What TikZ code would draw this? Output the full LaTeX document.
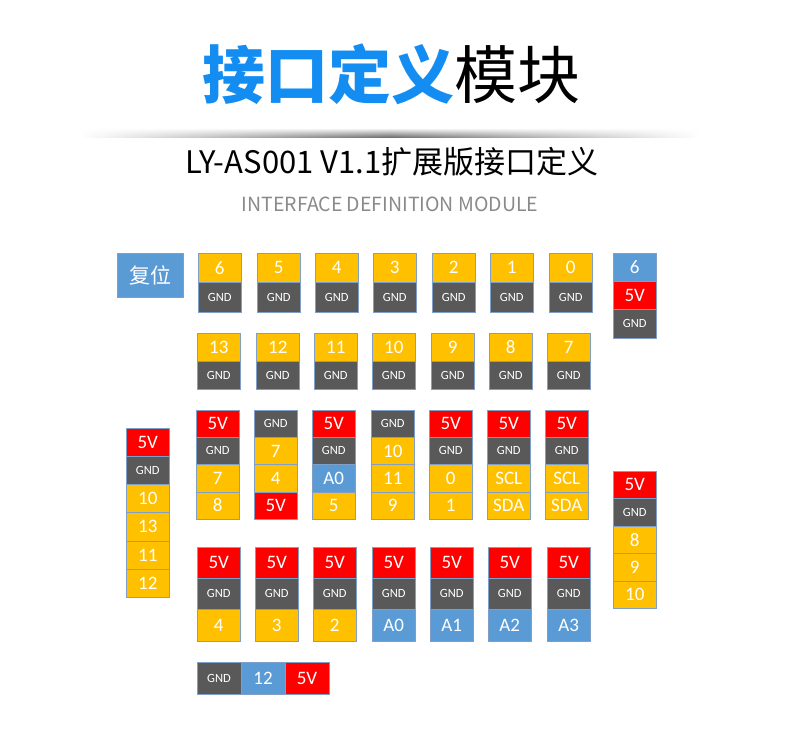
\documentclass[tikz,border=0pt]{standalone}
\usepackage{fontspec}
\setmainfont{Carlito}
\newfontfamily\cjk{Noto Sans CJK SC}
\usetikzlibrary{positioning,fadings}
\definecolor{pinyel}{HTML}{FFC000}
\definecolor{pingnd}{HTML}{595959}
\definecolor{pinred}{HTML}{FF0000}
\definecolor{pinblu}{HTML}{5B9BD5}
\definecolor{pinedge}{HTML}{7F9FC6}
\definecolor{titleblue}{HTML}{138DF2}
\definecolor{subgray}{HTML}{8A8A8A}

\begin{document}
\begin{tikzpicture}[x=1pt, y=-1pt,
    pin/.style={draw=pinedge, line width=0.6pt, outer sep=0pt, inner sep=0pt,
                minimum width=43.5pt, anchor=north west, text=white,
                font=\fontsize{19}{19}\selectfont},
    pyel/.style={fill=pinyel},
    pgnd/.style={fill=pingnd, font=\fontsize{12.5}{12.5}\selectfont},
    pred/.style={fill=pinred},
    pblu/.style={fill=pinblu},
]
\fill[white] (0,0) rectangle (790,738);
\useasboundingbox (0,0) rectangle (790,738);

% Heading
\node[font=\cjk\fontsize{63}{63}\selectfont] (title) at (391,74)
    {\textcolor{titleblue}{\bfseries 接口定义}模块};
% shadow under the heading
\shade[left color=white, right color=white, middle color=black!62, path fading=north]
    (80,128) rectangle (700,138);
\node[font=\cjk\fontsize{31}{31}\selectfont] (subtitle) at (392,162)
    {LY-AS001 V1.1扩展版接口定义};
\node[font=\cjk\fontsize{19.5}{19.5}\selectfont, text=subgray] (entitle) at (390,204)
    {INTERFACE DEFINITION MODULE};

% Reset button
\node[pin, pblu, minimum width=66pt, minimum height=44pt,
      font=\cjk\fontsize{21}{21}\selectfont] (reset) at (117,253) {复位};

% Row 1: digital pins over GND
\foreach \x/\t [count=\i] in {198/6,257/5,315/4,373/3,432/2,490/1,549/0} {
    \node[pin, pyel, minimum height=29.5pt] (top\i) at (\x,253) {\t};
    \node[pin, pgnd, minimum height=29.5pt, below=0pt of top\i] (topg\i) {GND};
}

% Top right header
\foreach \c/\t [count=\j] in {pblu/6,pred/5V,pgnd/GND}
    \node[pin, \c, minimum height=28.3pt] (rt\j) at (613,{253+28.3*(\j-1)}) {\t};

% Row 2: digital pins over GND
\foreach \x/\t [count=\i] in {197/13,256/12,314/11,372/10,431/9,489/8,547/7} {
    \node[pin, pyel, minimum height=28pt] (sec\i) at (\x,333) {\t};
    \node[pin, pgnd, minimum height=28pt, below=0pt of sec\i] (secg\i) {GND};
}

% Row 3: four-pin headers
\foreach \x/\cells [count=\i] in {
    196/{pred/5V,pgnd/GND,pyel/7,pyel/8},
    254/{pgnd/GND,pyel/7,pyel/4,pred/5V},
    312/{pred/5V,pgnd/GND,pblu/A0,pyel/5},
    371/{pgnd/GND,pyel/10,pyel/11,pyel/9},
    429/{pred/5V,pgnd/GND,pyel/0,pyel/1},
    487/{pred/5V,pgnd/GND,pyel/SCL,pyel/SDA},
    545/{pred/5V,pgnd/GND,pyel/SCL,pyel/SDA}} {
    \foreach \c/\t [count=\j] in \cells
        \node[pin, \c, minimum height=27.3pt] (mid\i-\j) at (\x,{410+27.3*(\j-1)}) {\t};
}

% Left header
\foreach \c/\t [count=\j] in {pred/5V,pgnd/GND,pyel/10,pyel/13,pyel/11,pyel/12}
    \node[pin, \c, minimum height=28.2pt] (lft\j) at (126,{428+28.2*(\j-1)}) {\t};

% Right header
\foreach \c/\t [count=\j] in {pred/5V,pgnd/GND,pyel/8,pyel/9,pyel/10}
    \node[pin, \c, minimum height=27.5pt] (rgt\j) at (613,{471+27.5*(\j-1)}) {\t};

% Row 4: 5V, GND, signal
\foreach \x/\c/\t [count=\i] in {197/pyel/4,255/pyel/3,313/pyel/2,372/pblu/A0,
                                 430/pblu/A1,488/pblu/A2,547/pblu/A3} {
    \node[pin, pred, minimum height=31.3pt] (low\i) at (\x,547) {5V};
    \node[pin, pgnd, minimum height=31.3pt, below=0pt of low\i] (lowg\i) {GND};
    \node[pin, \c, minimum height=31.3pt, below=0pt of lowg\i] (lowp\i) {\t};
}

% Bottom header
\node[pin, pgnd, minimum width=44pt, minimum height=32pt] (btm1) at (197,662) {GND};
\node[pin, pblu, minimum width=44pt, minimum height=32pt, right=0pt of btm1] (btm2) {12};
\node[pin, pred, minimum width=44pt, minimum height=32pt, right=0pt of btm2] (btm3) {5V};
\end{tikzpicture}
\end{document}
